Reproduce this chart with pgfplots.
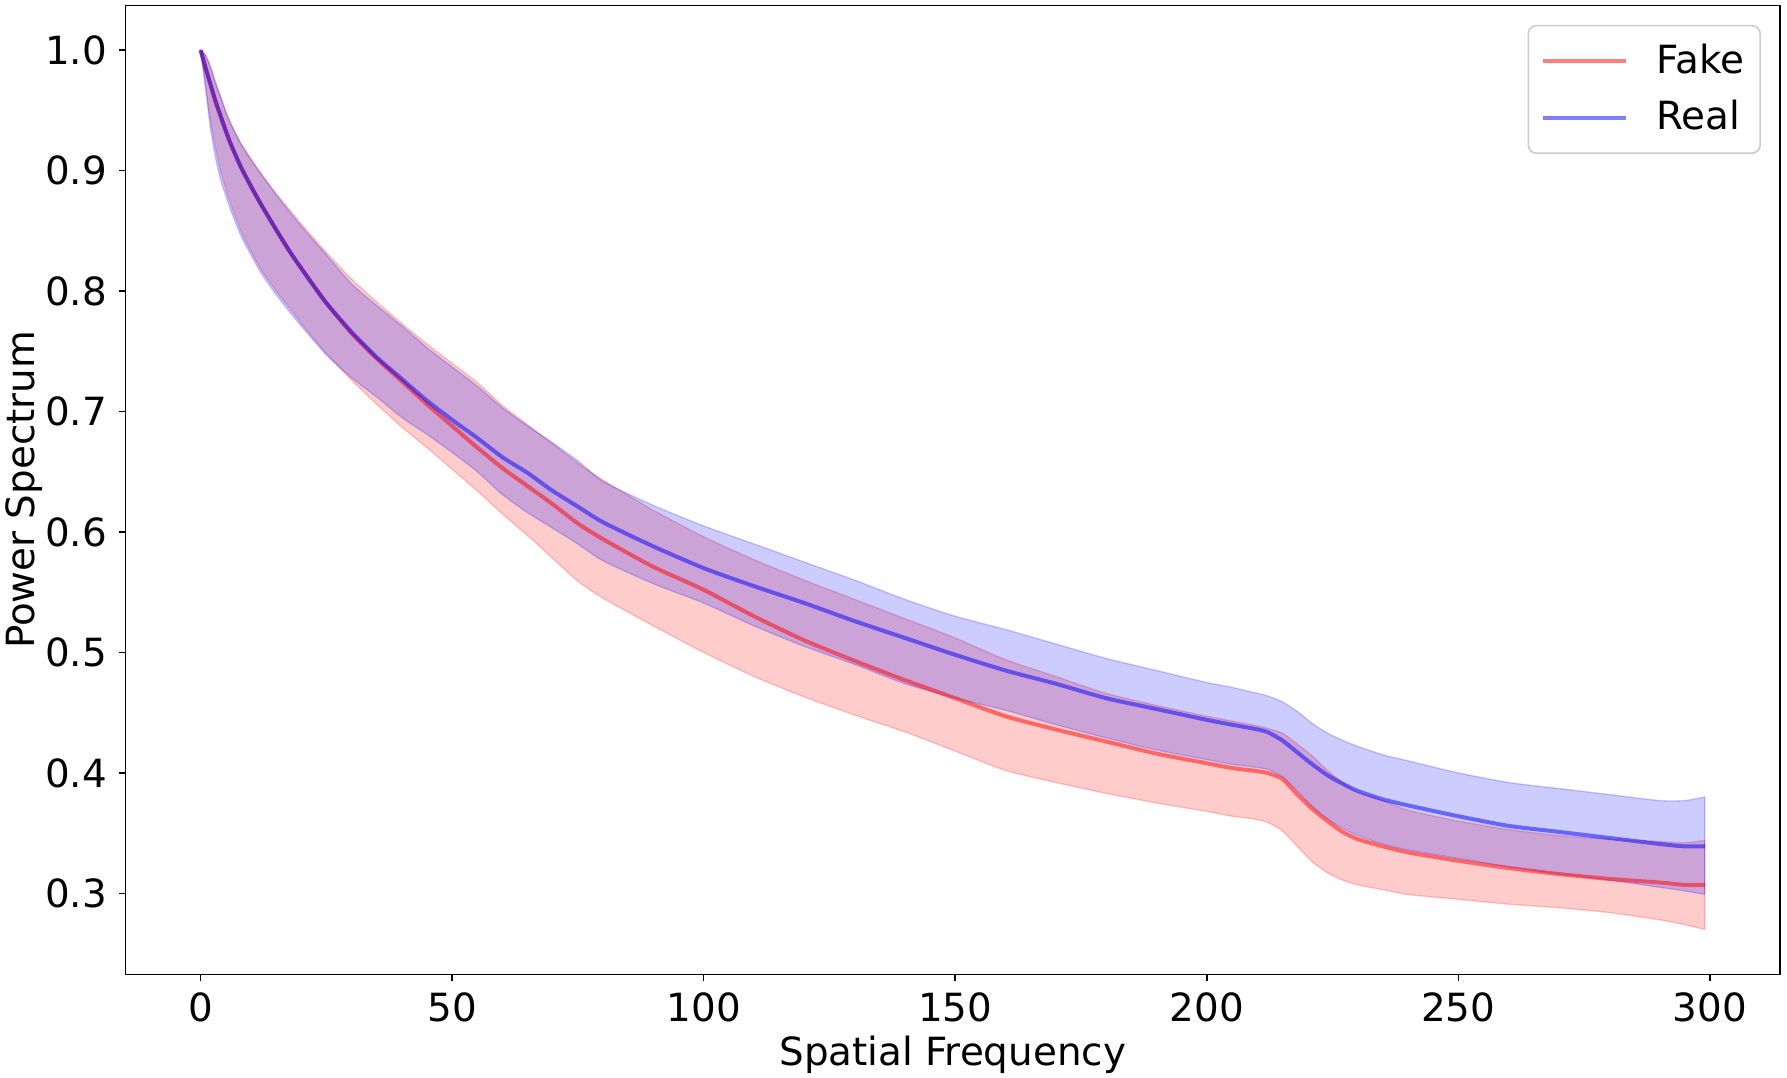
\documentclass[border=0pt]{standalone}
\usepackage{fontspec}
\setmainfont{DejaVu Sans}
\usepackage{pgfplots}
\pgfplotsset{compat=1.18}
\usepackage{pgfplotstable}
\usepgfplotslibrary{fillbetween}

\pgfplotstableread{
x   m     u     l
0   1.000 1.000 1.000
1   0.985 0.995 0.970
2   0.971 0.985 0.940
3   0.957 0.972 0.918
4   0.945 0.961 0.899
5   0.933 0.949 0.885
6   0.922 0.939 0.872
8   0.903 0.923 0.850
10  0.887 0.910 0.833
12  0.872 0.898 0.818
15  0.851 0.881 0.800
18  0.831 0.866 0.784
21  0.813 0.851 0.768
25  0.790 0.832 0.748
30  0.765 0.810 0.726
35  0.744 0.791 0.706
40  0.725 0.773 0.687
45  0.706 0.756 0.670
50  0.688 0.740 0.652
55  0.670 0.724 0.634
60  0.653 0.705 0.615
65  0.638 0.689 0.597
70  0.623 0.673 0.578
75  0.607 0.657 0.559
80  0.594 0.643 0.545
90  0.571 0.618 0.522
100 0.552 0.596 0.500
110 0.530 0.577 0.480
120 0.510 0.560 0.463
130 0.493 0.544 0.448
140 0.477 0.528 0.434
150 0.462 0.512 0.418
160 0.447 0.494 0.402
170 0.436 0.480 0.392
180 0.426 0.466 0.383
190 0.416 0.456 0.375
200 0.408 0.447 0.368
205 0.404 0.443 0.364
209 0.402 0.440 0.362
212 0.400 0.437 0.359
215 0.395 0.433 0.352
218 0.382 0.424 0.339
221 0.370 0.414 0.326
224 0.360 0.402 0.317
227 0.351 0.392 0.311
230 0.345 0.384 0.307
235 0.339 0.377 0.303
240 0.334 0.369 0.299
250 0.327 0.360 0.295
260 0.321 0.353 0.291
270 0.316 0.348 0.288
280 0.312 0.345 0.284
290 0.309 0.343 0.278
295 0.307 0.342 0.274
299 0.307 0.344 0.270
}\fake

\pgfplotstableread{
x   m     u     l
0   1.000 1.000 1.000
1   0.985 0.996 0.967
2   0.971 0.986 0.934
3   0.957 0.973 0.910
4   0.945 0.961 0.892
5   0.933 0.949 0.879
6   0.922 0.939 0.867
8   0.903 0.922 0.846
10  0.887 0.909 0.830
12  0.872 0.897 0.815
15  0.851 0.880 0.797
18  0.831 0.864 0.781
21  0.813 0.849 0.766
25  0.790 0.830 0.747
30  0.766 0.806 0.728
35  0.745 0.788 0.712
40  0.727 0.771 0.695
45  0.709 0.753 0.681
50  0.693 0.737 0.666
55  0.678 0.721 0.650
60  0.662 0.703 0.631
65  0.649 0.688 0.616
70  0.634 0.674 0.603
75  0.621 0.659 0.590
80  0.608 0.642 0.576
90  0.588 0.622 0.557
100 0.570 0.605 0.541
110 0.555 0.590 0.522
120 0.541 0.575 0.505
130 0.526 0.560 0.490
140 0.512 0.544 0.474
150 0.498 0.530 0.462
160 0.485 0.519 0.452
170 0.474 0.507 0.440
180 0.462 0.495 0.429
190 0.453 0.485 0.419
200 0.444 0.475 0.411
205 0.440 0.471 0.407
209 0.437 0.467 0.405
212 0.434 0.464 0.403
215 0.427 0.459 0.397
218 0.417 0.451 0.385
221 0.407 0.441 0.372
224 0.398 0.433 0.362
227 0.391 0.427 0.354
230 0.385 0.422 0.348
235 0.378 0.415 0.341
240 0.373 0.410 0.336
250 0.364 0.400 0.329
260 0.356 0.392 0.322
270 0.351 0.387 0.316
280 0.346 0.382 0.311
290 0.341 0.377 0.305
295 0.339 0.377 0.302
299 0.339 0.380 0.299
}\real

\newcommand{\fs}{\fontsize{11.65pt}{14pt}\selectfont}

\begin{document}
\begin{tikzpicture}
\begin{axis}[
  at={(0pt,0pt)}, anchor=south west,
  scale only axis, width=496.4pt, height=290.6pt,
  xmin=-14.95, xmax=313.95, ymin=0.2328, ymax=1.0369,
  axis line style={line width=0.47pt, black},
  tick style={line width=0.47pt, black},
  major tick length=2.05pt,
  tick align=outside, xtick pos=bottom, ytick pos=left,
  xtick={0,50,100,150,200,250,300},
  ytick={0.3,0.4,0.5,0.6,0.7,0.8,0.9,1.0},
  y tick label style={/pgf/number format/.cd, fixed, fixed zerofill, precision=1, /tikz/.cd},
  /pgf/number format/assume math mode=true,
  tick label style={font=\fs},
  label style={font=\fs},
  xlabel={Spatial Frequency}, ylabel={Power Spectrum},
  xlabel style={at={(axis description cs:0.5,-0.0827)}, anchor=center},
  ylabel style={at={(axis description cs:-0.0612,0.5)}, anchor=center},
  legend style={at={(axis description cs:0.9885,0.9802)}, anchor=north east,
    draw=black!20, line width=0.47pt, rounded corners=2.5pt, fill=white,
    font=\fs, inner xsep=3.8pt, inner ysep=4.5pt, row sep=4.6pt,
    nodes={inner sep=1pt},
    /tikz/every odd column/.append style={column sep=7.5pt}},
  legend cell align=left,
  legend image code/.code={\draw[#1, rounded corners=0pt] (0pt,0pt) -- (25pt,0pt);},
]
\addplot[draw=none, smooth, tension=0.4, name path=fu, forget plot] table[x=x,y=u]{\fake};
\addplot[draw=none, smooth, tension=0.4, name path=fl, forget plot] table[x=x,y=l]{\fake};
\addplot[fill=red, fill opacity=0.2, draw=red, draw opacity=0.2, line width=0.4pt, forget plot] fill between[of=fu and fl];
\addplot[draw=none, smooth, tension=0.4, name path=ru, forget plot] table[x=x,y=u]{\real};
\addplot[draw=none, smooth, tension=0.4, name path=rl, forget plot] table[x=x,y=l]{\real};
\addplot[fill=blue, fill opacity=0.2, draw=blue, draw opacity=0.2, line width=0.4pt, forget plot] fill between[of=ru and rl];
\addplot[red, opacity=0.5, line width=1.2pt, smooth, tension=0.4] table[x=x,y=m]{\fake};
\addlegendentry{Fake}
\addplot[blue, opacity=0.5, line width=1.2pt, smooth, tension=0.4] table[x=x,y=m]{\real};
\addlegendentry{Real}
\end{axis}
\pgfresetboundingbox
\useasboundingbox (-37.62pt,-31.05pt) rectangle (498.5pt,292.3pt);
\end{tikzpicture}
\end{document}
